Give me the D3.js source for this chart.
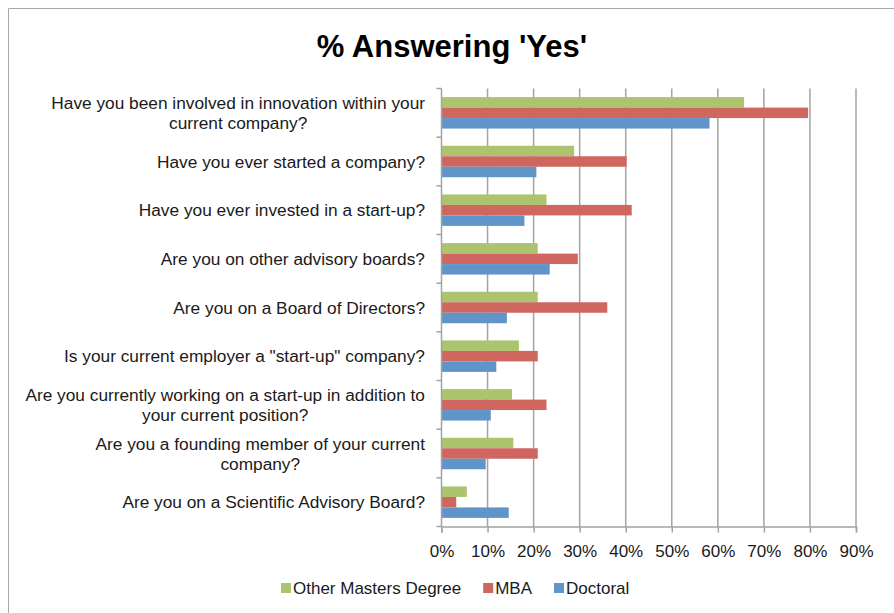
<!DOCTYPE html>
<style>
    body { margin: 0; background: #fff; }
    text { font-family: "Liberation Sans", Arial, sans-serif; fill: #1a1a1a; }
</style>
<svg width="894" height="613"></svg>
<script src="https://d3js.org/d3.v7.min.js"></script>
<script>

    var questions = [
        "Have you been involved in innovation within your\ncurrent company?",
        "Have you ever started a company?",
        "Have you ever invested in a start-up?",
        "Are you on other advisory boards?",
        "Are you on a Board of Directors?",
        "Is your current employer a \"start-up\" company?",
        "Are you currently working on a start-up in addition to\nyour current position?",
        "Are you a founding member of your current\ncompany?",
        "Are you on a Scientific Advisory Board?"
    ];
    var seriesNames = ["Other Masters Degree", "MBA", "Doctoral"];
    var seriesColors = ["#abc46d", "#cf665f", "#6095c9"];

    // % answering yes
    var otherMasters = [65.7, 28.8, 22.8, 20.9, 20.9, 16.8, 15.3, 15.6, 5.5];
    var mba = [79.6, 40.2, 41.3, 29.6, 36.0, 20.9, 22.8, 20.9, 3.2];
    var doctoral = [58.2, 20.6, 18.0, 23.5, 14.2, 11.9, 10.7, 9.6, 14.6];
    var xTicks = [0, 10, 20, 30, 40, 50, 60, 70, 80, 90];

    var svg = d3.select("svg");
    var grid = "#a3a3a3";

    // chart area frame (left + top edges only visible)
    svg.append("path")
        .attr("d", "M8.5,613 V8.5 H894")
        .attr("fill", "none")
        .attr("stroke", "#a8a8a8")
        .attr("stroke-width", 1);

    svg.append("text")
        .attr("x", 452)
        .attr("y", 57)
        .attr("text-anchor", "middle")
        .attr("font-size", 31)
        .attr("font-weight", "bold")
        .style("fill", "#000")
        .text("% Answering 'Yes'");

    var x = d3.scaleLinear()
        .domain([0, 90])
        .range([441.5, 856]);

    var y = d3.scaleBand()
        .domain(questions)
        .range([88.5, 526.5]);

    var ySub = d3.scaleBand()
        .domain(seriesNames)
        .range([0, y.bandwidth()])
        .paddingOuter(0.82);

    // vertical gridlines
    svg.append("g")
        .selectAll("line")
        .data(xTicks.slice(1))
        .enter().append("line")
        .attr("x1", function(d) { return x(d); })
        .attr("x2", function(d) { return x(d); })
        .attr("y1", 88.5)
        .attr("y2", 526.5)
        .attr("stroke", grid)
        .attr("stroke-width", 1.5);

    // bars
    var rows = questions.map(function(q, i) {
        return [otherMasters[i], mba[i], doctoral[i]];
    });

    var groups = svg.append("g")
        .selectAll("g")
        .data(rows)
        .enter().append("g")
        .attr("transform", function(d, i) { return "translate(0," + y(questions[i]) + ")"; });

    groups.selectAll("rect")
        .data(function(d) { return d; })
        .enter().append("rect")
        .attr("x", x(0))
        .attr("y", function(d, j) { return ySub(seriesNames[j]); })
        .attr("width", function(d) { return x(d) - x(0); })
        .attr("height", ySub.bandwidth())
        .attr("fill", function(d, j) { return seriesColors[j]; });

    // x axis
    var xAxis = svg.append("g")
        .attr("transform", "translate(0,526.5)")
        .call(d3.axisBottom(x).tickValues(xTicks).tickSize(6).tickFormat(function(d) { return d + "%"; }));
    xAxis.select(".domain").attr("stroke", grid).attr("stroke-width", 1.5);
    xAxis.selectAll(".tick line").attr("stroke", grid).attr("stroke-width", 1.5);
    xAxis.selectAll(".tick text")
        .attr("y", 18)
        .attr("font-size", 17)
        .style("fill", "#1a1a1a");

    // y axis line + category ticks
    svg.append("line")
        .attr("x1", x(0)).attr("x2", x(0))
        .attr("y1", 88.5).attr("y2", 526.5)
        .attr("stroke", grid).attr("stroke-width", 1.5);

    var bounds = questions.map(function(q) { return y(q); }).concat([526.5]);
    svg.append("g")
        .selectAll("line")
        .data(bounds)
        .enter().append("line")
        .attr("x1", x(0) - 5).attr("x2", x(0))
        .attr("y1", function(d) { return d; })
        .attr("y2", function(d) { return d; })
        .attr("stroke", grid).attr("stroke-width", 1.5);

    // category labels: block right-aligned, wrapped lines centred inside the block
    var labelRight = 425;
    var labels = svg.append("g")
        .selectAll("text")
        .data(questions)
        .enter().append("text")
        .attr("text-anchor", "middle")
        .attr("font-size", 17.3);

    labels.each(function(q) {
        var lines = q.split("\n");
        var mid = y(q) + y.bandwidth() / 2;
        var top = mid - (lines.length - 1) * 10;
        var spans = d3.select(this).selectAll("tspan")
            .data(lines)
            .enter().append("tspan")
            .attr("y", function(d, k) { return top + k * 20; })
            .attr("dy", "0.35em")
            .text(function(d) { return d; });
        var maxW = 0;
        spans.each(function() { maxW = Math.max(maxW, this.getComputedTextLength()); });
        spans.attr("x", labelRight - maxW / 2);
    });

    // legend
    var legend = svg.append("g").attr("transform", "translate(281,583)");
    var lx = 0;
    seriesNames.forEach(function(name, j) {
        legend.append("rect")
            .attr("x", lx).attr("y", 0)
            .attr("width", 10).attr("height", 10)
            .attr("fill", seriesColors[j]);
        var t = legend.append("text")
            .attr("x", lx + 12)
            .attr("y", 11)
            .attr("font-size", 17)
            .text(name);
        lx += 12 + t.node().getComputedTextLength() + 22;
    });

</script>
